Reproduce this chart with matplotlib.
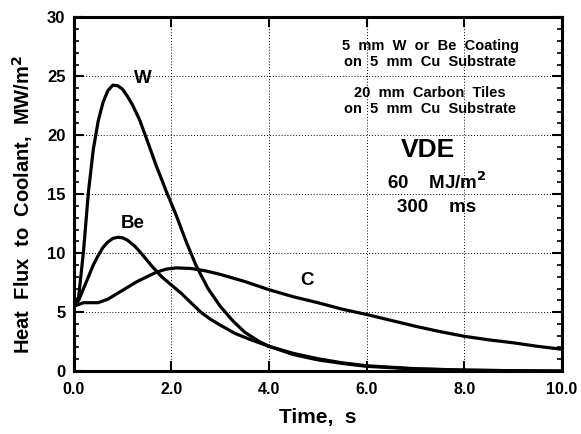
import matplotlib
matplotlib.use("Agg")
import matplotlib.pyplot as plt
from matplotlib.ticker import MultipleLocator

plt.rcParams['font.family'] = ['Liberation Sans', 'DejaVu Sans']
plt.rcParams['font.weight'] = 'bold'
plt.rcParams['mathtext.default'] = 'bf'

# Data
w_x = [0, 0.1, 0.2, 0.3, 0.4, 0.5, 0.6, 0.7, 0.8, 0.9, 1.0, 1.1, 1.2, 1.35, 1.5, 1.7, 1.9, 2.1,
       2.3, 2.5, 2.75, 3.0, 3.25, 3.5, 3.8, 4.0, 4.5, 5.0, 5.5, 6.0, 7.0, 8.0, 9.0, 10.0]
w_y = [5.5, 6.3, 10.2, 15.2, 18.8, 21.2, 22.8, 23.8, 24.25, 24.2, 23.9, 23.3, 22.6, 21.3, 19.6,
       17.3, 15.2, 13.2, 11.0, 9.0, 7.0, 5.5, 4.3, 3.3, 2.5, 2.1, 1.4, 0.95, 0.65, 0.4, 0.18,
       0.08, 0.03, 0.0]

be_x = [0, 0.1, 0.2, 0.3, 0.4, 0.5, 0.6, 0.7, 0.8, 0.9, 1.0, 1.1, 1.25, 1.4, 1.6, 1.8, 2.0, 2.2,
        2.4, 2.6, 2.8, 3.0, 3.3, 3.6, 4.0, 4.5, 5.0, 5.5, 6.0, 7.0, 8.0, 9.0, 10.0]
be_y = [5.5, 6.0, 7.0, 8.0, 9.0, 9.8, 10.5, 10.95, 11.25, 11.35, 11.3, 11.1, 10.6, 9.9, 8.9,
        8.0, 7.3, 6.6, 5.8, 5.0, 4.4, 3.9, 3.2, 2.7, 2.1, 1.5, 1.05, 0.7, 0.45, 0.2, 0.08,
        0.03, 0.0]

c_x = [0, 0.2, 0.5, 0.7, 0.9, 1.1, 1.3, 1.5, 1.7, 1.9, 2.1, 2.4, 2.7, 3.0, 3.5, 4.0, 4.5,
       5.0, 5.5, 6.0, 6.5, 7.0, 7.5, 8.0, 8.5, 9.0, 9.5, 10.0]
c_y = [5.5, 5.8, 5.8, 6.1, 6.6, 7.1, 7.6, 8.0, 8.4, 8.65, 8.75, 8.7, 8.5, 8.2, 7.6, 6.9, 6.3,
       5.8, 5.25, 4.8, 4.3, 3.8, 3.35, 2.95, 2.65, 2.4, 2.1, 1.85]

x_ticks = [0, 2, 4, 6, 8, 10]
x_tick_labels = ['0.0', '2.0', '4.0', '6.0', '8.0', '10.0']
y_ticks = [0, 5, 10, 15, 20, 25, 30]

fig = plt.figure(figsize=(5.81, 4.34), dpi=100)
ax = fig.add_axes([0.127, 0.145, 0.840, 0.815])

lw = 2.3
for xs, ys in [(w_x, w_y), (be_x, be_y), (c_x, c_y)]:
    ax.plot(xs, ys, color='black', lw=lw, solid_capstyle='butt', zorder=3)

ax.set_xlim(0, 10)
ax.set_ylim(0, 30)
ax.set_xticks(x_ticks)
ax.set_xticklabels(x_tick_labels)
ax.set_yticks(y_ticks)
ax.yaxis.set_minor_locator(MultipleLocator(1))
ax.xaxis.set_minor_locator(MultipleLocator(1))
ax.tick_params(axis='both', which='major', direction='in', length=7, width=1.5,
               top=True, right=True, pad=6)
ax.tick_params(axis='y', which='major', labelsize=12)
ax.tick_params(axis='x', which='major', labelsize=11.5, pad=8)
ax.tick_params(axis='both', which='minor', direction='in', length=3.5, width=1.2,
               top=False, right=True, bottom=False)
for lab in ax.get_xticklabels() + ax.get_yticklabels():
    lab.set_fontweight('bold')

ax.grid(True, which='major', linestyle=(0, (1, 2)), color='black', lw=0.7)
for s in ax.spines.values():
    s.set_linewidth(2.2)

ax.set_xlabel('Time,  s', fontsize=15, fontweight='bold', labelpad=8)
ax.set_ylabel('Heat  Flux  to  Coolant,  MW/m$^2$', fontsize=14.5, fontweight='bold')
ax.yaxis.set_label_coords(-0.08, 0.47)

ax.text(1.42, 24.8, 'W', fontsize=13.5, fontweight='bold', ha='center', va='center')
ax.text(1.21, 12.5, 'Be', fontsize=13.5, fontweight='bold', ha='center', va='center')
ax.text(4.77, 7.7, 'C', fontsize=13.5, fontweight='bold', ha='center', va='center')

ax.text(7.3, 26.9, '5  mm  W  or  Be  Coating\non  5  mm  Cu  Substrate', fontsize=10.5,
        fontweight='bold', ha='center', va='center', linespacing=1.25, zorder=4)
ax.text(7.3, 22.9, '20  mm  Carbon  Tiles\non  5  mm  Cu  Substrate', fontsize=10.5,
        fontweight='bold', ha='center', va='center', linespacing=1.25, zorder=4)
ax.text(7.25, 18.75, 'VDE', fontsize=19, fontweight='bold', ha='center', va='center', zorder=4)
ax.text(7.44, 16.0, '60    MJ/m$^2$', fontsize=13.5, fontweight='bold', ha='center', va='center', zorder=4)
ax.text(7.44, 13.9, '300    ms', fontsize=13.5, fontweight='bold', ha='center', va='center', zorder=4)

fig.savefig('out.png', dpi=100)
